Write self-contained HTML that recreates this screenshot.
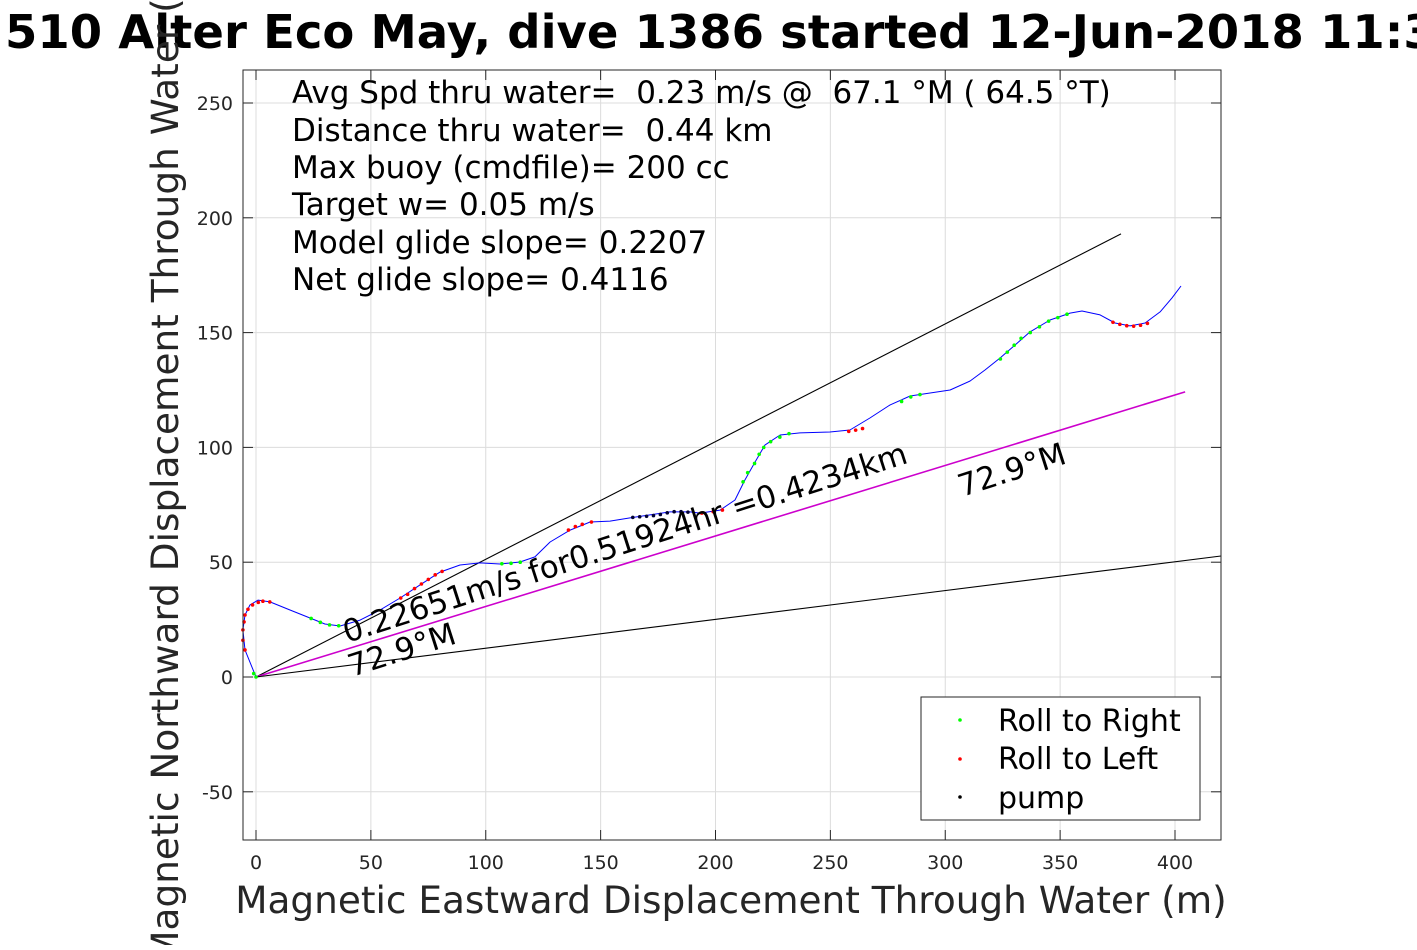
<!DOCTYPE html>
<html><head><meta charset="utf-8"><style>
body{margin:0;background:#fff;width:1417px;height:945px;overflow:hidden}
svg{font-family:"DejaVu Sans","Liberation Sans",sans-serif}
text{white-space:pre}
</style></head><body>
<svg id="chart" width="1417" height="945" xmlns="http://www.w3.org/2000/svg">
<text x="5" y="48" font-size="46.5" font-weight="bold">510 Alter Eco May, dive 1386 started 12-Jun-2018 11:3</text>
<g id="grid"></g>
<g id="marks"></g>
<rect x="243" y="70" width="978" height="770" fill="none" stroke="#262626" stroke-width="1"/>
<g id="ticks"></g>
<text x="731" y="913" font-size="37.4" fill="#262626" text-anchor="middle">Magnetic Eastward Displacement Through Water (m)</text>
<text transform="translate(178,455) rotate(-90)" font-size="37.4" fill="#262626" text-anchor="middle">Magnetic Northward Displacement Through Water (m)</text>
<g font-size="31">
<text x="292" y="103" xml:space="preserve">Avg Spd thru water=  0.23 m/s @  67.1 °M ( 64.5 °T)</text>
<text x="292" y="141" xml:space="preserve">Distance thru water=  0.44 km</text>
<text x="292" y="178">Max buoy (cmdfile)= 200 cc</text>
<text x="292" y="215">Target w= 0.05 m/s</text>
<text x="292" y="253">Model glide slope= 0.2207</text>
<text x="292" y="290">Net glide slope= 0.4116</text>
</g>
<text transform="translate(347,643) rotate(-17.8)" font-size="31">0.22651m/s for0.51924hr =0.4234km</text>
<text transform="translate(352,677) rotate(-17.8)" font-size="31">72.9°M</text>
<text transform="translate(962,497) rotate(-17.8)" font-size="31">72.9°M</text>
<g>
<rect x="921" y="697" width="279" height="123" fill="#fff" stroke="#262626"/>
<circle cx="960" cy="720" r="1.8" fill="#00ff00"/><text x="998" y="731" font-size="30">Roll to Right</text>
<circle cx="960" cy="759" r="1.8" fill="#ff0000"/><text x="998" y="769" font-size="30">Roll to Left</text>
<circle cx="960" cy="797" r="1.8" fill="#000"/><text x="998" y="808" font-size="30">pump</text>
</g>
</svg>
<script>
const xTicks=[0,50,100,150,200,250,300,350,400];
const yTicks=[-50,0,50,100,150,200,250];
const trackX=[0,-4.8,-5.7,-4.8,-2.6,0.9,6.1,14.8,23.5,30.0,36.6,45.3,54.0,62.7,71.4,80.1,88.8,97.5,106.2,114.9,121.4,128.0,136.7,145.4,154.1,162.8,171.5,180.2,188.9,193.3,202.0,208.5,212.8,217.2,221.5,228.1,236.8,249.8,258.5,267.2,276.0,284.7,293.4,302.1,310.8,317.3,323.8,330.4,336.9,345.6,354.3,359.5,367.4,373.9,380.4,387.0,393.5,398.7,402.6];
const trackY=[0,11.8,20.5,27.0,31.4,33.5,32.7,29.2,25.7,23.1,22.2,24.8,29.2,34.4,40.1,45.7,48.8,49.7,49.2,50.1,52.3,58.8,64.0,67.5,67.9,69.3,70.6,71.9,71.9,71.4,72.7,77.1,85.8,93.6,101.0,105.4,106.3,106.7,107.6,112.8,118.5,122.4,123.7,125.0,128.9,133.7,138.9,144.6,150.3,155.5,158.5,159.4,157.7,154.2,152.9,154.2,159.0,165.1,170.3];
const rollLeft=[[-4.8,11.8],[-5.7,16],[-5.7,20.5],[-5.2,24],[-4.8,27],[-3.5,29.5],[-1.5,31.4],[1,32.5],[3,33],[6,32.7],[63,34.4],[66,36],[69,38.5],[72,40.5],[75,42.5],[78,44.5],[81,46],[136,64],[139,65.5],[142,66.5],[146,67.5],[194,71.4],[199,72],[203,72.7],[258,107],[261,107.5],[264,108.2],[373,154.5],[376,153.6],[379,153],[382,152.8],[385,153.2],[388,154]];
const rollRight=[[0,0],[-1,1.5],[24,25.5],[28,23.8],[32,22.7],[36,22.3],[107,49.3],[111,49.5],[115,50],[212,85],[214,89],[217,93],[219,97],[221,100],[224,102.5],[228,104.5],[232,106],[281,120],[285,122],[289,123],[324,138.5],[327,141.5],[330,144.5],[333,147.5],[337,150],[341,152.5],[345,155],[349,156.5],[353,158]];
const pump=[[164,69.5],[167,69.8],[170,70],[173,70.3],[176,70.8],[179,71.5],[182,72],[185,72],[188,71.8]];
const refEnds=[[376.5,193],[404.4,124.2],[420,52.7]];
const NS="http://www.w3.org/2000/svg";
const sx=v=>256+v*2.2975, sy=v=>677-v*2.296;
function mk(tag,attrs,parent){const e=document.createElementNS(NS,tag);for(const k in attrs)e.setAttribute(k,attrs[k]);parent.appendChild(e);return e;}
const grid=document.getElementById('grid'),ticks=document.getElementById('ticks'),marks=document.getElementById('marks');
xTicks.forEach(t=>{
 const l=mk('line',{x1:sx(t),x2:sx(t),y1:70,y2:840,stroke:'#dcdcdc'},grid);
 
 
 mk('line',{x1:sx(t),x2:sx(t),y1:840,y2:830,stroke:'#262626'},ticks);
 mk('line',{x1:sx(t),x2:sx(t),y1:70,y2:80,stroke:'#262626'},ticks);
 const tx=mk('text',{x:sx(t),y:869,'font-size':19,fill:'#262626','text-anchor':'middle'},ticks);
 tx.textContent=t;
 
 
});
yTicks.forEach(t=>{
 const l=mk('line',{x1:243,x2:1221,y1:sy(t),y2:sy(t),stroke:'#dcdcdc'},grid);
 
 
 mk('line',{x1:243,x2:253,y1:sy(t),y2:sy(t),stroke:'#262626'},ticks);
 mk('line',{x1:1211,x2:1221,y1:sy(t),y2:sy(t),stroke:'#262626'},ticks);
 const tx=mk('text',{x:233,y:sy(t)+7,'font-size':19,fill:'#262626','text-anchor':'end'},ticks);
 tx.textContent=t;
 
 
});
refEnds.forEach((p,i)=>{
 const l=mk('line',{x1:sx(0),y1:sy(0),x2:sx(p[0]),y2:sy(p[1]),stroke:i==1?'#cc00cc':'#000','stroke-width':i==1?1.6:1.1},marks);
 
 
});
let d='';trackX.forEach((x,i)=>{d+=(i?'L':'M')+sx(x).toFixed(1)+','+sy(trackY[i]).toFixed(1);});
const tr=mk('path',{d:d,fill:'none',stroke:'#0000ff','stroke-width':1,'stroke-linejoin':'round'},marks);


[[rollRight,'#00ff00','roll-right-dot'],[rollLeft,'#ff0000','roll-left-dot'],[pump,'#000033','pump-dot']].forEach(s=>{
 s[0].forEach(p=>{const c=mk('circle',{cx:sx(p[0]),cy:sy(p[1]),r:1.8,fill:s[1]},marks);
 
 });
});
</script>
</body></html>
